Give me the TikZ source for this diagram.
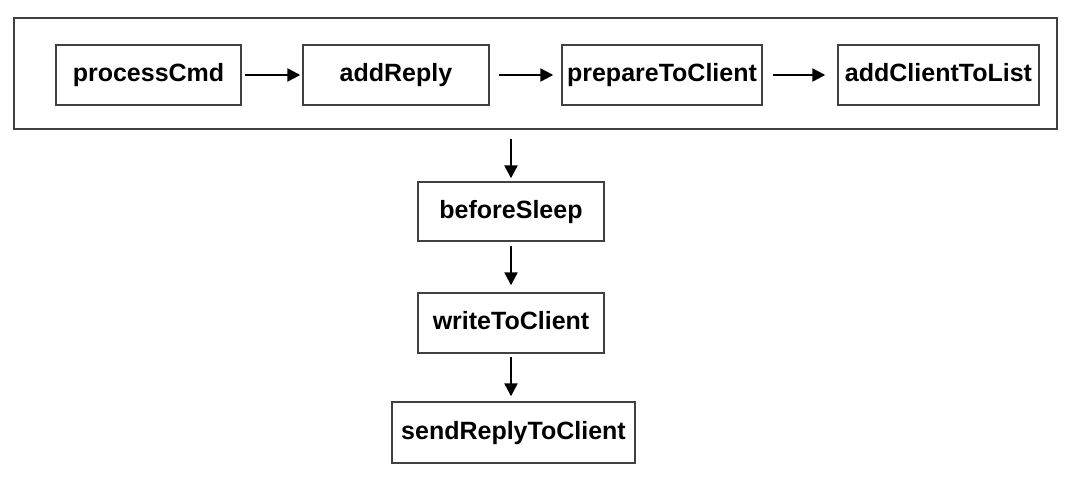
\documentclass[tikz,border=0pt]{standalone}
\usepackage{fontspec}
\setmainfont{Liberation Sans}
\usetikzlibrary{arrows.meta}
\begin{document}
\begin{tikzpicture}[x=1pt,y=-1pt,
  box/.style={draw=black!75,line width=1.4pt,inner sep=0pt,minimum height=60pt,text height=18pt,text depth=5pt,font=\fontsize{25}{28}\selectfont\bfseries},
  frame/.style={draw=black!75,line width=1.4pt,inner sep=0pt},
  arr/.style={line width=2.4pt,-{Triangle[length=13pt,width=13pt]}}]
\useasboundingbox (0,0) rectangle (1080,487);
\node[frame,minimum width=1043pt,minimum height=111pt] (grp) at (535.5,73.5) {};
\node[box,minimum width=185pt] (pc) at (148.5,75) {processCmd};
\node[box,minimum width=186pt] (ar) at (396,75) {addReply};
\node[box,minimum width=200pt] (ptc) at (662,75) {prepareToClient};
\node[box,minimum width=201pt] (actl) at (938.5,75) {addClientToList};
\node[box,minimum width=186pt,minimum height=59pt] (bs) at (511,211.5) {beforeSleep};
\node[box,minimum width=186pt,minimum height=60pt] (wtc) at (511,323) {writeToClient};
\node[box,minimum width=243pt,minimum height=61pt] (srtc) at (513.5,432.5) {sendReplyToClient};
\draw[arr,shorten <=3pt,shorten >=2pt] (pc) -- (ar);
\draw[arr,shorten <=9pt,shorten >=8pt] (ar) -- (ptc);
\draw[arr,shorten <=10pt,shorten >=12pt] (ptc) -- (actl);
\draw[arr,shorten <=9pt,shorten >=3pt] (grp.south -| bs) -- (bs);
\draw[arr,shorten <=4pt,shorten >=7pt] (bs) -- (wtc);
\draw[arr,shorten <=3pt,shorten >=5pt] (wtc.south) -- (wtc.south |- srtc.north);
\end{tikzpicture}
\end{document}
